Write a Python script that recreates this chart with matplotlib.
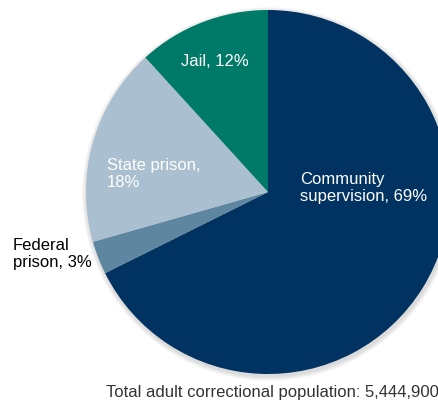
import matplotlib
matplotlib.use("Agg")
import matplotlib.pyplot as plt
from matplotlib.patches import Circle

# data, clockwise from 12 o'clock
labels = ["Community supervision", "Federal prison", "State prison", "Jail"]
shares = [69, 3, 18, 12]
colors = ["#003361", "#5e86a1", "#aabfcf", "#007a68"]
total_text = "Total adult correctional population: 5,444,900"

plt.rcParams["font.family"] = ["Liberation Sans", "DejaVu Sans"]

fig = plt.figure(figsize=(4.39, 4.04), dpi=100)
ax = fig.add_axes([0, 0, 1, 1])

cx, cy, r = 268, 212, 182

# soft shadow under the pie
for i in range(6):
    ax.add_patch(Circle((cx + 1, cy - 2), r + 1 + i * 0.8, color="black",
                        alpha=0.025, lw=0, zorder=0))

ax.pie(shares, colors=colors, startangle=90, counterclock=False,
       center=(cx, cy), radius=r, wedgeprops=dict(linewidth=0),
       frame=True)
ax.set_xlim(0, 439)
ax.set_ylim(0, 404)
ax.axis("off")

fs = 12
ax.text(300, 404 - 188, "Community\nsupervision, 69%", color="white",
        fontsize=fs, ha="left", va="center", linespacing=1.1)
ax.text(107, 404 - 174, "State prison,\n18%", color="white",
        fontsize=fs, ha="left", va="center", linespacing=1.1)
ax.text(181, 404 - 61, "Jail, 12%", color="white",
        fontsize=fs, ha="left", va="center")
ax.text(13, 404 - 254, "Federal\nprison, 3%", color="black",
        fontsize=fs, ha="left", va="center", linespacing=1.1)
ax.text(106, 404 - 392, total_text, color="#333333",
        fontsize=fs, ha="left", va="center")

fig.savefig("out.png", dpi=100)
